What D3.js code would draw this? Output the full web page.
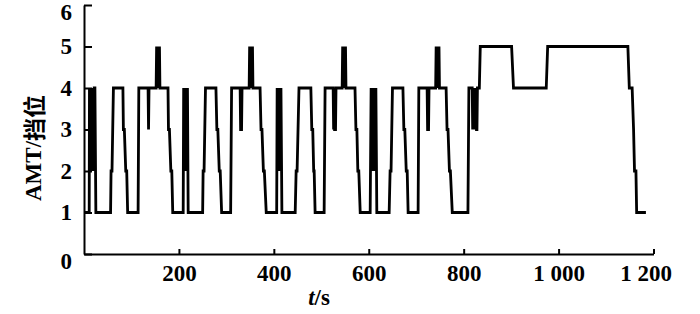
<!DOCTYPE html>
<html>
<head>
<meta charset="utf-8">
<script src="https://cdn.jsdelivr.net/npm/d3@7.9.0/dist/d3.min.js"></script>
<style>
  body { margin: 0; background: #fff; }
  svg { display: block; }
  .tick text { font-family: "Liberation Serif", "Times New Roman", serif; font-size: 23px; font-weight: bold; fill: #000; }
</style>
</head>
<body>
<svg id="chart" width="700" height="314"></svg>
<script>
// gear over time as [t (s), gear] pairs
const cycle1 = [
  [1,1],[11,1],[11.5,4],[12.5,2],[13.5,4],[14.5,2],[15.5,4],[16.5,3],[17.5,4],[18.5,2],[19.5,4],[20.5,3],[21.5,4],[23,4],[25,1],
  [56,1],[57,2],[59,2],[62,4],[82,4],[83,3],[85,3],[88,2],[90,2],[92,1],
  [114,1],[115.5,4],[135,4],[136,3],[137,4],
  [152,4],[153,5],[154,4],[155,5],[156,4],[157,5],[158,4],[159,5],[160,4],
  [177,4],[178,3],[180,3],[183,2],[185,2],[187,1],[209,1]
];
const cycle2 = [
  [210,4],[211,2],[212,4],[213,2],[214,4],[215,3],[216,4],[217,2],[218,4],[219.5,1],
  [250,1],[251,2],[253,2],[256,4],[278,4],[280,3],[282,3],[285,2],[287,2],[290,1],
  [309,1],[311,4],[329,4],[330,3],[332,3],[333,4],
  [348,4],[349,5],[350,4],[351,5],[352,4],[353,5],[354,4],[355,5],[356,4],
  [371,4],[373,3],[375,3],[378,2],[380,2],[384,1],[406,1]
];
const cycle3 = [
  [407,4],[408,2],[409,4],[410,2],[411,4],[412,3],[413,4],[414,2],[415,4],[417,1],
  [445,1],[447,2],[449,2],[453,4],[478,4],[480,3],[482,3],[484,2],[485,2],[487,1],
  [506,1],[508,4],[525,4],[526,3],[527,4],[528,3],[530,3],[531,4],
  [544,4],[545,5],[546,4],[547,5],[548,4],[549,5],[550,4],[551,5],[552,4],
  [571,4],[573,3],[575,3],[577,2],[579,2],[582,1],[603,1]
];
const cycle4 = [
  [605,4],[606,2],[607,4],[608,2],[609,4],[610,3],[611,4],[612,2],[613,4],[614,3],[615,4],[617,1],
  [643,1],[645,2],[647,2],[650,4],[672,4],[674,3],[676,3],[679,2],[681,2],[683,1],
  [704,1],[705.5,4],[723,4],[724,3],[726,3],[727,4],
  [741,4],[742,5],[743,4],[744,5],[745,4],[746,5],[747,4],[748,5],[749,4],
  [763,4],[765,3],[767,3],[770,2],[772,2],[776,1],[809,1]
];
const tail = [
  [811,4],[818,4],[819,3],[820,4],[821,3],[822,4],[823,3],[824,4],[825,3],[826,4],[827,3],[828,3],[829,4],
  [833,4],[835,5],[901,5],[905,4],[974,4],[977,5],
  [1146,5],[1149,4],[1155,4],[1158,3],[1160,2],[1163,2],[1164.5,1],[1184,1]
];

const xTicks = [200, 400, 600, 800, 1000, 1200];
const xTickLabels = ['200', '400', '600', '800', '1 000', '1 200'];
const yTicks = [0, 1, 2, 3, 4, 5, 6];

const series = [...cycle1, ...cycle2, ...cycle3, ...cycle4, ...tail];

const svg = d3.select('#chart');
const x = d3.scaleLinear().domain([0, 1200]).range([84, 653.5]);
const y = d3.scaleLinear().domain([0, 6]).range([254, 5]);

// axes, ticks point inward
const xAxis = svg.append('g')
  .attr('transform', `translate(0,${y(0)})`)
  .call(d3.axisBottom(x)
    .tickValues(xTicks)
    .tickFormat((d, i) => xTickLabels[i])
    .tickSizeInner(-5)
    .tickSizeOuter(0));
xAxis.selectAll('.tick text')
  .attr('y', 27)
  .attr('dy', 0)
  .attr('dx', d => d === 1200 ? -8 : 0);   // last label sits a bit left in the original

const yAxis = svg.append('g')
  .attr('transform', `translate(${x(0)},0)`)
  .call(d3.axisLeft(y)
    .tickValues(yTicks)
    .tickFormat(d3.format('d'))
    .tickSizeInner(-8)
    .tickSizeOuter(0)
    .tickPadding(12));
// end labels are nudged down like in the original
yAxis.selectAll('.tick text')
  .attr('dy', d => (d === 6 || d === 0) ? '0.62em' : '0.32em');

svg.selectAll('.domain').attr('stroke', '#000').attr('stroke-width', 2);
svg.selectAll('.tick line').attr('stroke', '#000').attr('stroke-width', 2);

// gear line
const line = d3.line()
  .x(d => x(d[0]))
  .y(d => y(d[1]));

svg.append('path')
  .datum(series)
  .attr('d', line)
  .attr('fill', 'none')
  .attr('stroke', '#000')
  .attr('stroke-width', 2.8)
  .attr('stroke-linejoin', 'miter');

// axis titles
const yTitle = svg.append('text')
  .attr('transform', 'translate(33,148) rotate(-90)')
  .attr('text-anchor', 'middle')
  .attr('dominant-baseline', 'central')
  .attr('font-size', 23)
  .attr('font-weight', 'bold');
yTitle.append('tspan')
  .attr('font-family', '"Liberation Serif", serif')
  .text('AMT/');
yTitle.append('tspan')
  .attr('font-family', '"Noto Sans CJK SC", sans-serif')
  .text('挡位');

const xTitle = svg.append('text')
  .attr('x', 319)
  .attr('y', 305)
  .attr('text-anchor', 'middle')
  .attr('font-family', '"Liberation Serif", serif')
  .attr('font-size', 23)
  .attr('font-weight', 'bold');
xTitle.append('tspan').attr('font-style', 'italic').text('t');
xTitle.append('tspan').text('/s');
</script>
</body>
</html>
